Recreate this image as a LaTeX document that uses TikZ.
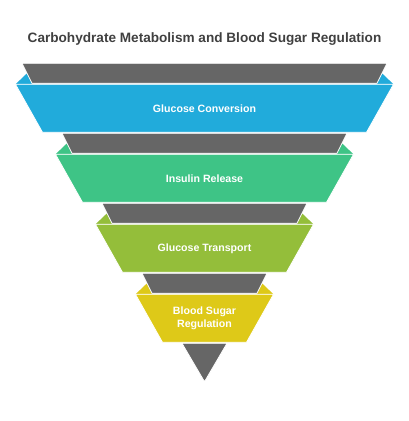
\documentclass[tikz,border=0pt]{standalone}
\usepackage{fontspec}
\setmainfont{Liberation Sans}
\definecolor{cblue}{RGB}{33,171,219}
\definecolor{cgreen}{RGB}{62,196,134}
\definecolor{colive}{RGB}{148,190,58}
\definecolor{cyellow}{RGB}{222,201,24}
\definecolor{cgray}{RGB}{102,102,102}
\definecolor{ctitle}{RGB}{64,64,64}

\begin{document}
\begin{tikzpicture}[x=1pt,y=-1pt,
  band/.style={draw=white,line width=0.8pt,line join=round},
  bandtext/.style={text=white,font=\bfseries\fontsize{10.6}{13}\selectfont,align=center}]
	\useasboundingbox (0,0) rectangle (409,421);
	\node[font=\bfseries\fontsize{13.6}{16}\selectfont,text=ctitle] (title) at (204.5,39) {Carbohydrate Metabolism and Blood Sugar Regulation};
	\foreach \i/\col/\txt in {0/cblue/Glucose Conversion,1/cgreen/Insulin Release,2/colive/Glucose Transport,3/cyellow/{Blood Sugar\\Regulation}}{
		\pgfmathsetmacro\w{182.5-40*\i}
		\pgfmathsetmacro\t{63.3+70*\i}
		\begin{scope}[shift={(204.5,\t)}]
		% ears behind the gray band
		\fill[\col] (-\w+5,10)--(-\w-6.5,21)--(-\w+10.5,21)--cycle;
		\fill[\col] (\w-5,10)--(\w+6.5,21)--(\w-10.5,21)--cycle;
		\fill[cgray,band] (-\w,0)--(\w,0)--(\w-10,20)--(-\w+10,20)--cycle;
		\fill[\col,band] (-\w-6.5,21)--(\w+6.5,21)--(\w-20.5,69)--(-\w+20.5,69)--cycle;
		\node[bandtext] (lvl\i) at (0,45) {\txt};
		\end{scope}
	}
	\fill[cgray,band] (182,343.3)--(227,343.3)--(204.5,381.7)--cycle;
\end{tikzpicture}
\end{document}
